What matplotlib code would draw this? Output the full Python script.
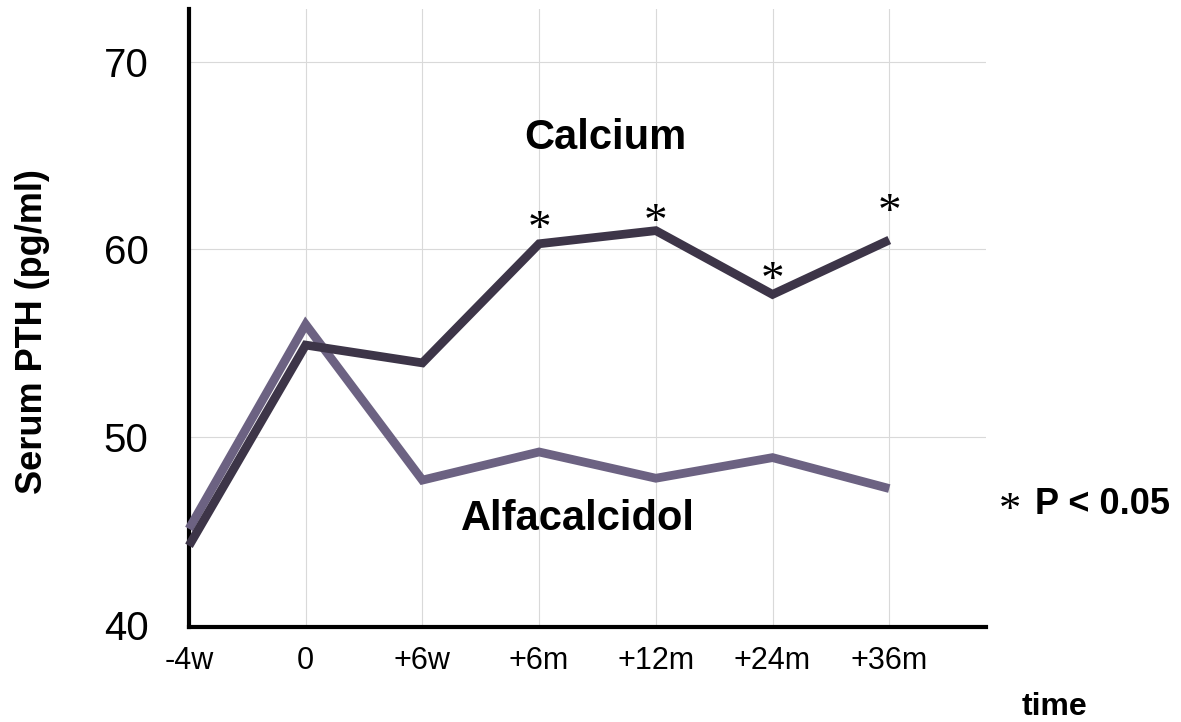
import matplotlib
matplotlib.use('Agg')
from matplotlib import pyplot as plt

# data
timepoints = ['-4w', '0', '+6w', '+6m', '+12m', '+24m', '+36m']
calcium = [44.2, 54.9, 53.95, 60.3, 61.0, 57.6, 60.5]
alfacalcidol = [45.1, 56.0, 47.7, 49.2, 47.8, 48.9, 47.25]
star_idx = [3, 4, 5, 6]
star_y = [61.0, 61.35, 58.3, 61.9]
yticks = [40, 50, 60, 70]

dark = '#3d3548'
light = '#6c6282'
sans = ['Liberation Sans', 'DejaVu Sans']
serif = ['Liberation Serif', 'DejaVu Serif']

plt.rcParams['font.family'] = sans

fig = plt.figure(figsize=(11.81, 7.22), dpi=100)
ax = fig.add_axes([0.160, 0.1316, 0.675, 0.8555])

x = list(range(len(timepoints)))

# light grid, none on the spines
for i in x[1:]:
    ax.axvline(i, color='#d9d9d9', lw=0.8, zorder=0)
for v in yticks[1:]:
    ax.axhline(v, color='#d9d9d9', lw=0.8, zorder=0)

ax.plot(x, alfacalcidol, color=light, lw=6.3, solid_capstyle='butt',
        solid_joinstyle='miter', clip_on=False, zorder=3)
ax.plot(x, calcium, color=dark, lw=6.3, solid_capstyle='butt',
        solid_joinstyle='miter', clip_on=False, zorder=4)

for i, yv in zip(star_idx, star_y):
    ax.text(i, yv, '*', family=serif, fontsize=34, ha='center', va='center')

ax.text(3.57, 65.36, 'Calcium', fontsize=30, fontweight='bold', ha='center', va='baseline')
ax.text(3.33, 45.04, 'Alfacalcidol', fontsize=30, fontweight='bold', ha='center', va='baseline')

ax.set_xlim(0, 6.83)
ax.set_ylim(39.87, 72.8)
ax.set_xticks(x)
ax.set_xticklabels(timepoints)
ax.set_yticks(yticks)
ax.tick_params(axis='x', length=0, pad=14, labelsize=22)
ax.tick_params(axis='y', length=0, pad=29, labelsize=29)

for s in ['top', 'right']:
    ax.spines[s].set_visible(False)
for s in ['left', 'bottom']:
    ax.spines[s].set_linewidth(3)
    ax.spines[s].set_color('black')

fig.text(33 / 1181, 1 - 332 / 722, 'Serum PTH (pg/ml)', rotation=90, fontsize=26,
         fontweight='bold', ha='center', va='center')
fig.text(1055 / 1181, 1 - 715 / 722, 'time', fontsize=23, fontweight='bold',
         ha='center', va='baseline')
fig.text(1035 / 1181, 1 - 514 / 722, 'P < 0.05', fontsize=26, fontweight='bold',
         ha='left', va='baseline')
fig.text(1009.5 / 1181, 1 - 511 / 722, '*', family=serif, fontsize=32,
         ha='center', va='center')

fig.savefig('out.png', dpi=100)
